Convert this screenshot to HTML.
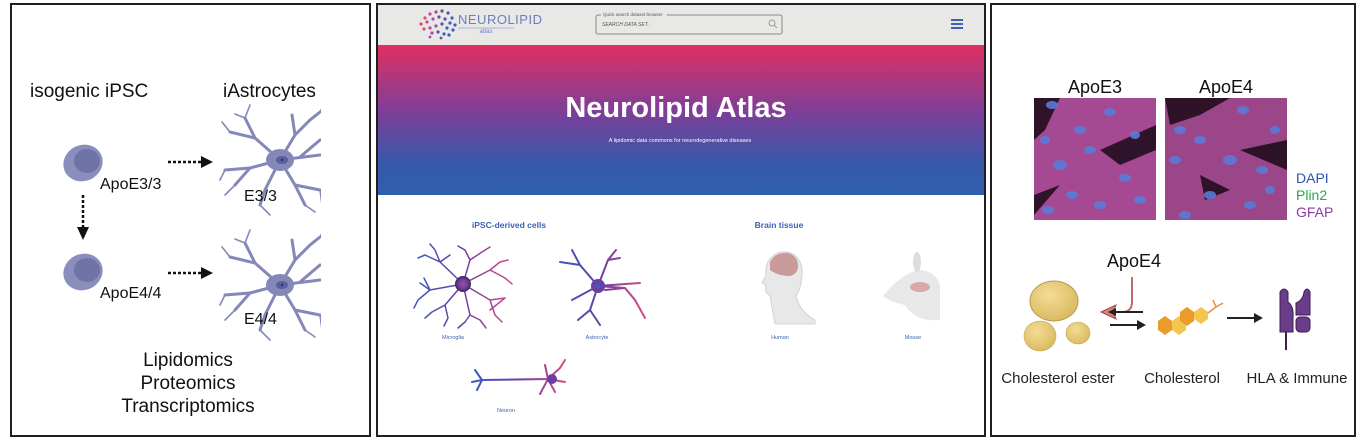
<!DOCTYPE html>
<html><head><meta charset="utf-8"><style>
html,body{margin:0;padding:0;background:#fff;width:1360px;height:442px;overflow:hidden}
svg{display:block}
text{font-family:"Liberation Sans",Arial,sans-serif}
</style></head><body>
<svg width="1360" height="442" viewBox="0 0 1360 442" xmlns="http://www.w3.org/2000/svg">
<defs>
<linearGradient id="hero" x1="0" y1="0" x2="0" y2="1">
<stop offset="0" stop-color="#e02f62"/><stop offset="0.45" stop-color="#7c3f98"/><stop offset="0.8" stop-color="#3659ab"/><stop offset="1" stop-color="#2f5fae"/></linearGradient>
<linearGradient id="cellg" x1="0" y1="0" x2="1" y2="0"><stop offset="0" stop-color="#3b5cc0"/><stop offset="0.5" stop-color="#6a3fa0"/><stop offset="1" stop-color="#d64a87"/></linearGradient>
<radialGradient id="drop" cx="0.4" cy="0.35" r="0.7"><stop offset="0" stop-color="#f3dc95"/><stop offset="1" stop-color="#d9b95f"/></radialGradient>
<radialGradient id="mic" cx="0.5" cy="0.5" r="0.6"><stop offset="0" stop-color="#9a4da8"/><stop offset="0.5" stop-color="#6b3f97"/><stop offset="1" stop-color="#2c1440"/></radialGradient>
<g id="astro" fill="none" stroke="#8388b8" stroke-linecap="round">
<g stroke-width="3">
<path d="M0 0 L-25 -22 L-35 -42"/><path d="M-25 -22 L-50 -28"/>
<path d="M0 0 L15 -25 L30 -40 L40 -48"/><path d="M15 -25 L12 -45"/>
<path d="M0 0 L-30 8 L-55 10"/><path d="M-30 8 L-45 25"/>
<path d="M0 0 L40 -5"/><path d="M20 -3 L40 -20"/>
<path d="M0 0 L15 25 L25 45"/><path d="M0 0 L-15 30 L-20 45"/>
<path d="M15 25 L40 30"/>
</g>
<g stroke-width="1.6">
<path d="M-35 -42 L-45 -46"/><path d="M-35 -42 L-30 -55"/><path d="M-50 -28 L-58 -38"/>
<path d="M40 -48 L45 -58"/><path d="M-55 10 L-60 20"/><path d="M-45 25 L-55 35"/>
<path d="M-20 45 L-10 55"/><path d="M25 45 L35 52"/><path d="M40 30 L42 45"/>
</g>
<ellipse cx="0" cy="0" rx="14" ry="11" fill="#8388b8" stroke="none"/>
<ellipse cx="2" cy="0" rx="6" ry="4" fill="#5b5f9a" stroke="none"/>
<circle cx="2" cy="0" r="1.2" fill="#2a2e66" stroke="none"/>
</g>
<g id="ipsc"><ellipse cx="0" cy="0" rx="20" ry="18" fill="#8a8ebd" transform="rotate(-25)"/><ellipse cx="4" cy="-2" rx="13" ry="12" fill="#6f73a6"/></g>
</defs>

<!-- Left panel -->
<rect x="11" y="4" width="359" height="432" fill="#fff" stroke="#231f20" stroke-width="2"/>
<text x="30" y="97" font-size="19" fill="#111">isogenic iPSC</text>
<text x="223" y="97" font-size="19" fill="#111">iAstrocytes</text>
<use href="#ipsc" x="83" y="163"/>
<use href="#ipsc" x="83" y="272"/>
<text x="100" y="189" font-size="16" fill="#111">ApoE3/3</text>
<text x="100" y="298" font-size="16" fill="#111">ApoE4/4</text>
<line x1="168" y1="162" x2="202" y2="162" stroke="#111" stroke-width="2.5" stroke-dasharray="3,2"/>
<polygon points="201,156 213,162 201,168" fill="#111"/>
<line x1="168" y1="273" x2="202" y2="273" stroke="#111" stroke-width="2.5" stroke-dasharray="3,2"/>
<polygon points="201,267 213,273 201,279" fill="#111"/>
<line x1="83" y1="195" x2="83" y2="228" stroke="#111" stroke-width="2.5" stroke-dasharray="3,2"/>
<polygon points="77,227 89,227 83,240" fill="#111"/>
<svg x="215" y="100" width="106" height="130"><use href="#astro" x="65" y="60"/></svg>
<svg x="215" y="228" width="106" height="130"><use href="#astro" x="65" y="57"/></svg>
<text x="244" y="201" font-size="16" fill="#111">E3/3</text>
<text x="244" y="324" font-size="16" fill="#111">E4/4</text>
<text x="188" y="366" font-size="19" fill="#111" text-anchor="middle">Lipidomics</text>
<text x="188" y="389" font-size="19" fill="#111" text-anchor="middle">Proteomics</text>
<text x="188" y="412" font-size="19" fill="#111" text-anchor="middle">Transcriptomics</text>

<!-- Middle panel -->
<rect x="377" y="4" width="608" height="432" fill="#fff" stroke="#231f20" stroke-width="2"/>
<rect x="378" y="5" width="606" height="40" fill="#e8e8e6"/>
<rect x="378" y="45" width="606" height="150" fill="url(#hero)"/>
<g fill="#5a4fae">
<circle cx="425" cy="18" r="1.6" fill="#e24a6e"/><circle cx="430" cy="14" r="1.6" fill="#c2479a"/><circle cx="436" cy="12" r="1.6" fill="#9f4aa8"/><circle cx="442" cy="11" r="1.6"/><circle cx="448" cy="13" r="1.6"/><circle cx="452" cy="18" r="1.6" fill="#3b5cc0"/>
<circle cx="421" cy="24" r="1.6" fill="#e24a6e"/><circle cx="427" cy="22" r="1.6" fill="#d0487e"/><circle cx="433" cy="19" r="1.6" fill="#b049a0"/><circle cx="439" cy="17" r="1.6"/><circle cx="445" cy="19" r="1.6"/><circle cx="450" cy="23" r="1.6" fill="#3b5cc0"/><circle cx="455" cy="25" r="1.6" fill="#3b5cc0"/>
<circle cx="424" cy="29" r="1.6" fill="#e24a6e"/><circle cx="430" cy="28" r="1.6" fill="#c2479a"/><circle cx="436" cy="26" r="1.6" fill="#9f4aa8"/><circle cx="442" cy="24" r="1.6"/><circle cx="447" cy="28" r="1.6" fill="#3b5cc0"/><circle cx="453" cy="30" r="1.6" fill="#3b5cc0"/>
<circle cx="432" cy="33" r="1.6" fill="#b049a0"/><circle cx="438" cy="32" r="1.6"/><circle cx="444" cy="34" r="1.6" fill="#3b5cc0"/><circle cx="449" cy="35" r="1.6" fill="#3b5cc0"/><circle cx="441" cy="38" r="1.4"/><circle cx="430" cy="37" r="1.4" fill="#9f4aa8"/>
</g>
<text x="458" y="24" font-size="13" fill="#6a7fbf" letter-spacing="0.5">NEUROLIPID</text>
<line x1="458" y1="28" x2="514" y2="28" stroke="#a9b6dc" stroke-width="1"/>
<text x="486" y="33" font-size="6" fill="#6a7fbf" text-anchor="middle">atlas</text>
<rect x="596" y="15" width="186" height="19" rx="2" fill="#e8e8e6" stroke="#888" stroke-width="1"/>
<rect x="601" y="11" width="66" height="6" fill="#e8e8e6"/>
<text x="603" y="16" font-size="4.5" fill="#555">Quick search dataset browser</text>
<text x="602" y="26" font-size="5" fill="#555" font-style="italic">SEARCH DATA SET..</text>
<circle cx="772" cy="23" r="3" fill="none" stroke="#888" stroke-width="0.8"/><line x1="774" y1="25" x2="777" y2="28" stroke="#888" stroke-width="0.8"/>
<g fill="#3e62b0"><rect x="951" y="19" width="12" height="2"/><rect x="951" y="23" width="12" height="2"/><rect x="951" y="27" width="12" height="2"/></g>
<text x="676" y="117" font-size="29" font-weight="bold" fill="#fff" text-anchor="middle" font-family="'DejaVu Sans',sans-serif">Neurolipid Atlas</text>
<text x="680" y="142" font-size="5.5" fill="#fff" text-anchor="middle" font-family="'DejaVu Sans',sans-serif">A lipidomic data commons for neurodegenerative diseases</text>
<text x="509" y="228" font-size="8.5" font-weight="bold" fill="#3e62b0" text-anchor="middle" font-family="'DejaVu Sans',sans-serif">iPSC-derived cells</text>
<text x="779" y="228" font-size="8.5" font-weight="bold" fill="#3e62b0" text-anchor="middle" font-family="'DejaVu Sans',sans-serif">Brain tissue</text>
<!-- microglia -->
<g stroke="url(#cellg)" fill="none" stroke-width="1.5" stroke-linecap="round">
<path d="M463 284 L440 262 L425 255 M440 262 L435 250 M463 284 L430 290 L418 300 M430 290 L420 283 M463 284 L445 305 L432 312 M445 305 L448 318 M463 284 L470 260 L465 250 M470 260 L482 252 M463 284 L490 270 L500 262 M490 270 L505 278 M463 284 L490 300 L505 298 M490 300 L495 315 M463 284 L470 315 L465 322 M470 315 L480 320 M425 255 L418 258 M435 250 L430 244 M418 300 L414 308 M432 312 L425 318 M448 318 L444 326 M465 250 L458 246 M482 252 L490 247 M500 262 L508 260 M505 278 L512 284 M505 298 L490 310 M495 315 L502 322 M465 322 L458 328 M480 320 L486 328 M440 262 L450 255 M430 290 L424 278"/>
</g>
<circle cx="463" cy="284" r="8" fill="url(#mic)"/>
<!-- astrocyte -->
<g stroke="url(#cellg)" fill="none" stroke-width="2" stroke-linecap="round">
<path d="M598 286 L580 265 L572 250 M580 265 L560 262 M598 286 L608 260 L616 250 M608 260 L620 258 M598 286 L625 288 L605 290 M598 286 L640 283 M625 288 L635 300 L645 318 M598 286 L590 310 L578 320 M590 310 L600 325 M598 286 L572 300"/>
</g>
<circle cx="598" cy="286" r="7" fill="#6a3fa0"/><circle cx="598" cy="286" r="2.5" fill="#3b5cc0"/>
<!-- neuron -->
<g stroke="url(#cellg)" fill="none" stroke-width="2" stroke-linecap="round">
<path d="M482 380 L548 379 M482 380 L475 370 M482 380 L477 390 M482 380 L472 382 M548 379 L545 365 M548 379 L560 368 M548 379 L565 382 M548 379 L555 392 M548 379 L540 394 M560 368 L565 360"/>
</g>
<circle cx="552" cy="379" r="5" fill="#6a3fa0"/>
<g font-size="5.5" fill="#3e62b0" text-anchor="middle" font-family="'DejaVu Sans',sans-serif">
<text x="453" y="339">Microglia</text><text x="597" y="339">Astrocyte</text><text x="780" y="339">Human</text><text x="913" y="339">Mouse</text><text x="506" y="412">Neuron</text></g>
<!-- human -->
<path d="M775 324 Q772 308 770 296 Q764 292 766 286 L762 282 L766 276 Q764 258 780 252 Q798 250 802 268 Q803 285 796 296 Q800 312 815 320 L815 324 Z" fill="#e8e8e8" stroke="#ccc" stroke-width="0.8"/>
<path d="M770 262 Q775 252 788 253 Q798 256 798 266 Q798 274 790 276 Q778 276 770 270 Z" fill="#c99a9a"/>
<!-- mouse -->
<path d="M883 296 Q900 275 918 270 Q935 270 940 285 L940 320 Q915 322 905 305 Q890 302 883 296 Z" fill="#e8e8e8"/>
<ellipse cx="917" cy="262" rx="4" ry="10" fill="#ddd"/>
<ellipse cx="920" cy="287" rx="10" ry="5" fill="#d9a8a8"/>

<!-- Right panel -->
<rect x="991" y="4" width="364" height="432" fill="#fff" stroke="#231f20" stroke-width="2"/>
<text x="1095" y="93" font-size="18" fill="#111" text-anchor="middle">ApoE3</text>
<text x="1226" y="93" font-size="18" fill="#111" text-anchor="middle">ApoE4</text>
<rect x="1034" y="98" width="122" height="122" fill="#a54a92"/>
<rect x="1165" y="98" width="122" height="122" fill="#9a4688"/>
<g fill="#1a0a18" opacity="0.85">
<path d="M1034 98 L1060 98 L1045 130 L1034 140 Z"/><path d="M1100 150 L1156 125 L1156 150 L1120 165 Z"/><path d="M1034 195 L1060 185 L1034 215 Z"/>
<path d="M1165 98 L1230 98 L1200 115 L1170 125 Z"/><path d="M1240 150 L1287 140 L1287 170 Z"/><path d="M1200 175 L1230 190 L1205 200 Z"/></g>
<g fill="#5a7ad8" opacity="0.9">
<ellipse cx="1052" cy="105" rx="6" ry="4"/><ellipse cx="1080" cy="130" rx="6" ry="4"/><ellipse cx="1110" cy="112" rx="6" ry="4"/><ellipse cx="1060" cy="165" rx="7" ry="5"/><ellipse cx="1090" cy="150" rx="6" ry="4"/><ellipse cx="1125" cy="178" rx="6" ry="4"/><ellipse cx="1048" cy="210" rx="6" ry="4"/><ellipse cx="1140" cy="200" rx="6" ry="4"/><ellipse cx="1072" cy="195" rx="6" ry="4"/><ellipse cx="1135" cy="135" rx="5" ry="4"/><ellipse cx="1100" cy="205" rx="6" ry="4"/><ellipse cx="1045" cy="140" rx="5" ry="4"/>
<ellipse cx="1243" cy="110" rx="6" ry="4"/><ellipse cx="1180" cy="130" rx="6" ry="4"/><ellipse cx="1200" cy="140" rx="6" ry="4"/><ellipse cx="1230" cy="160" rx="7" ry="5"/><ellipse cx="1175" cy="160" rx="6" ry="4"/><ellipse cx="1262" cy="170" rx="6" ry="4"/><ellipse cx="1210" cy="195" rx="6" ry="4"/><ellipse cx="1250" cy="205" rx="6" ry="4"/><ellipse cx="1185" cy="215" rx="6" ry="4"/><ellipse cx="1275" cy="130" rx="5" ry="4"/><ellipse cx="1270" cy="190" rx="5" ry="4"/></g>
<text x="1296" y="183" font-size="14" fill="#2e52b5">DAPI</text>
<text x="1296" y="200" font-size="14" fill="#2aa84a">Plin2</text>
<text x="1296" y="217" font-size="14" fill="#8a3ea0">GFAP</text>
<text x="1134" y="267" font-size="18" fill="#111" text-anchor="middle">ApoE4</text>
<ellipse cx="1054" cy="301" rx="24" ry="20" fill="url(#drop)" stroke="#b89a4a" stroke-width="1"/>
<ellipse cx="1040" cy="336" rx="16" ry="15" fill="url(#drop)" stroke="#c4a65a" stroke-width="0.6"/>
<ellipse cx="1078" cy="333" rx="12" ry="11" fill="url(#drop)" stroke="#c4a65a" stroke-width="0.6"/>
<path d="M1132 277 L1132 302 Q1132 312 1122 312 L1110 312" fill="none" stroke="#c06a6a" stroke-width="2"/>
<polygon points="1101,312 1116,305 1113,312 1116,319" fill="#d98080" stroke="#a04848" stroke-width="1"/>
<line x1="1143" y1="312" x2="1113" y2="312" stroke="#222" stroke-width="2"/>
<polygon points="1108,312 1116,308 1116,316" fill="#222"/>
<line x1="1110" y1="325" x2="1138" y2="325" stroke="#222" stroke-width="2"/>
<polygon points="1146,325 1137,320 1137,330" fill="#222"/>
<polygon points="1158,321 1165,316 1172,321 1172,330 1165,335 1158,330" fill="#eb9a2c"/>
<polygon points="1172,321 1179,316 1186,321 1186,330 1179,335 1172,330" fill="#f4c64d"/>
<polygon points="1180,312 1187,307 1194,312 1194,321 1187,326 1180,321" fill="#eb9a2c"/>
<polygon points="1194,312 1201,307 1208,312 1208,319 1201,324 1194,319" fill="#f4c64d"/>
<path d="M1208 313 L1216 307 L1213 300 M1216 307 L1223 303" fill="none" stroke="#ef8b3c" stroke-width="1.5"/>
<line x1="1227" y1="318" x2="1255" y2="318" stroke="#222" stroke-width="2"/>
<polygon points="1263,318 1254,313 1254,323" fill="#222"/>
<path d="M1280 292 Q1284 286 1288 292 L1288 302 Q1294 306 1293 318 L1293 332 L1280 332 Z" fill="#6a3d8a" stroke="#3d1f52" stroke-width="1"/>
<path d="M1296 303 Q1303 300 1304 292 Q1307 286 1310 292 L1310 315 L1296 315 Z" fill="#6a3d8a" stroke="#3d1f52" stroke-width="1"/>
<rect x="1296" y="317" width="14" height="15" rx="4" fill="#6a3d8a" stroke="#3d1f52" stroke-width="1"/>
<line x1="1286" y1="332" x2="1286" y2="350" stroke="#3d1f52" stroke-width="2"/>
<text x="1058" y="383" font-size="15" fill="#222" text-anchor="middle">Cholesterol ester</text>
<text x="1182" y="383" font-size="15" fill="#222" text-anchor="middle">Cholesterol</text>
<text x="1297" y="383" font-size="15" fill="#222" text-anchor="middle">HLA &amp; Immune</text>
</svg>
</body></html>
